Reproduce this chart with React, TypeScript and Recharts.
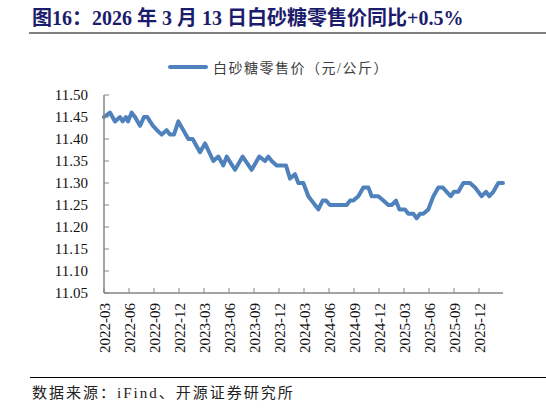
import React from 'react';
import { LineChart, Line, XAxis, YAxis } from 'recharts';

// Months elapsed since 2022-03
const monthOffsets = [
  0, 0.72, 1.32, 1.92, 2.24, 2.64, 2.88, 3.32, 3.72, 4.32, 4.8, 5.2, 5.52, 5.88, 6.36, 6.92,
  7.52, 7.92, 8.4, 8.92, 9.52, 10.12, 10.64, 11.52, 12.12, 13.12, 13.72, 14.32, 14.72, 15.72,
  16.64, 17.72, 18.64, 19.32, 19.72, 20.12, 20.72, 21.84, 22.32, 22.92, 23.32, 23.92, 24.52,
  24.92, 25.32, 25.72, 26.24, 26.64, 27.12, 29.12, 29.52, 29.92, 30.52, 31.12, 31.72, 32.12,
  32.92, 33.52, 34.12, 34.52, 35.04, 35.44, 36.12, 36.52, 37.12, 37.52, 37.92, 38.32, 38.92,
  39.52, 40.12, 40.64, 41.12, 41.6, 42.0, 42.52, 43.12, 43.92, 44.52, 45.32, 45.84, 46.24,
  46.72, 47.32, 47.88,
];

// 白砂糖零售价（元/公斤）
const prices = [
  11.45, 11.46, 11.44, 11.45, 11.44, 11.45, 11.44, 11.46, 11.45, 11.43, 11.45, 11.45, 11.44, 11.43, 11.42, 11.41,
  11.42, 11.41, 11.41, 11.44, 11.42, 11.40, 11.40, 11.37, 11.39, 11.35, 11.36, 11.34, 11.36, 11.33,
  11.36, 11.33, 11.36, 11.35, 11.36, 11.35, 11.34, 11.34, 11.31, 11.32, 11.30, 11.30, 11.27,
  11.26, 11.25, 11.24, 11.26, 11.26, 11.25, 11.25, 11.26, 11.26, 11.27, 11.29, 11.29, 11.27,
  11.27, 11.26, 11.25, 11.25, 11.26, 11.24, 11.24, 11.23, 11.23, 11.22, 11.23, 11.23, 11.24,
  11.27, 11.29, 11.29, 11.28, 11.27, 11.28, 11.28, 11.30, 11.30, 11.29, 11.27, 11.28, 11.27,
  11.28, 11.30, 11.30,
];

const xTickMonths = [0, 3, 6, 9, 12, 15, 18, 21, 24, 27, 30, 33, 36, 39, 42, 45];
const xTickLabels = [
  '2022-03', '2022-06', '2022-09', '2022-12', '2023-03', '2023-06', '2023-09', '2023-12',
  '2024-03', '2024-06', '2024-09', '2024-12', '2025-03', '2025-06', '2025-09', '2025-12',
];
const yTicks = [11.05, 11.1, 11.15, 11.2, 11.25, 11.3, 11.35, 11.4, 11.45, 11.5];

const titleText = '图16：2026 年 3 月 13 日白砂糖零售价同比+0.5%';
const seriesName = '白砂糖零售价（元/公斤）';
const sourceText = '数据来源：iFind、开源证券研究所';

const data = monthOffsets.map((m, i) => ({ m, price: prices[i] }));

const SERIF = "'Liberation Serif', 'Noto Sans CJK SC', serif";
const AXIS_COLOR = '#868686';
const LINE_COLOR = '#4F81BD';

const XTick = (props: any) => {
  const { x, y, payload } = props;
  const idx = xTickMonths.indexOf(payload.value);
  const label = idx >= 0 ? xTickLabels[idx] : '';
  return (
    <g>
      <line x1={x} y1={y} x2={x} y2={y - 5} stroke={AXIS_COLOR} strokeWidth={1} />
      <text
        x={x + 1}
        y={y + 10}
        transform={`rotate(-90, ${x + 1}, ${y + 10})`}
        textAnchor="end"
        dy="0.35em"
        fontFamily={SERIF}
        fontSize={15}
        fill="#111"
      >
        {label}
      </text>
    </g>
  );
};

const YTick = (props: any) => {
  const { x, y, payload } = props;
  return (
    <g>
      <line x1={x} y1={y} x2={x + 5} y2={y} stroke={AXIS_COLOR} strokeWidth={1} />
      <text x={x - 16} y={y} textAnchor="end" dy="0.35em" fontFamily={SERIF} fontSize={15} fill="#111">
        {Number(payload.value).toFixed(2)}
      </text>
    </g>
  );
};

export default function App() {
  return (
    <div style={{ position: 'absolute', left: 0, top: 0, width: 546, height: 408, background: '#fff', overflow: 'hidden' }}>
      <div
        style={{
          position: 'absolute',
          left: 32,
          top: 6,
          fontFamily: SERIF,
          fontWeight: 'bold',
          fontSize: 20,
          color: '#1c1c6c',
          whiteSpace: 'nowrap',
          lineHeight: '24px',
        }}
      >
        {titleText}
      </div>
      <div style={{ position: 'absolute', left: 29, top: 32, width: 517, height: 2, background: '#7f7f7f' }} />

      <div style={{ position: 'absolute', left: 168, top: 57, height: 20, display: 'flex', alignItems: 'center' }}>
        <div style={{ width: 40, height: 4, background: LINE_COLOR, borderRadius: 2 }} />
        <span
          style={{
            marginLeft: 5,
            fontFamily: SERIF,
            fontSize: 14,
            letterSpacing: 1.5,
            color: '#404040',
            whiteSpace: 'nowrap',
          }}
        >
          {seriesName}
        </span>
      </div>

      <div style={{ position: 'absolute', left: 0, top: 0 }}>
        <LineChart width={546} height={408} data={data} margin={{ top: 95, right: 43, bottom: 85, left: 44 }}>
          <XAxis
            dataKey="m"
            type="number"
            domain={[0, 47.88]}
            ticks={xTickMonths}
            interval={0}
            tickSize={0}
            tickMargin={0}
            tickLine={false}
            axisLine={{ stroke: AXIS_COLOR, strokeWidth: 1.5 }}
            tick={<XTick />}
            height={30}
          />
          <YAxis
            type="number"
            domain={[11.05, 11.5]}
            ticks={yTicks}
            interval={0}
            tickSize={0}
            tickMargin={0}
            tickLine={false}
            axisLine={{ stroke: AXIS_COLOR, strokeWidth: 1.5 }}
            tick={<YTick />}
            width={60}
            allowDataOverflow
          />
          <Line
            type="linear"
            dataKey="price"
            name={seriesName}
            stroke={LINE_COLOR}
            strokeWidth={4}
            dot={false}
            strokeLinejoin="round"
            strokeLinecap="round"
            isAnimationActive={false}
          />
        </LineChart>
      </div>

      <div style={{ position: 'absolute', left: 30, top: 377, width: 516, height: 1, background: '#000' }} />
      <div
        style={{
          position: 'absolute',
          left: 32,
          top: 383,
          fontFamily: SERIF,
          fontSize: 15,
          letterSpacing: 2,
          color: '#222',
          whiteSpace: 'nowrap',
          lineHeight: '20px',
        }}
      >
        {sourceText}
      </div>
    </div>
  );
}
